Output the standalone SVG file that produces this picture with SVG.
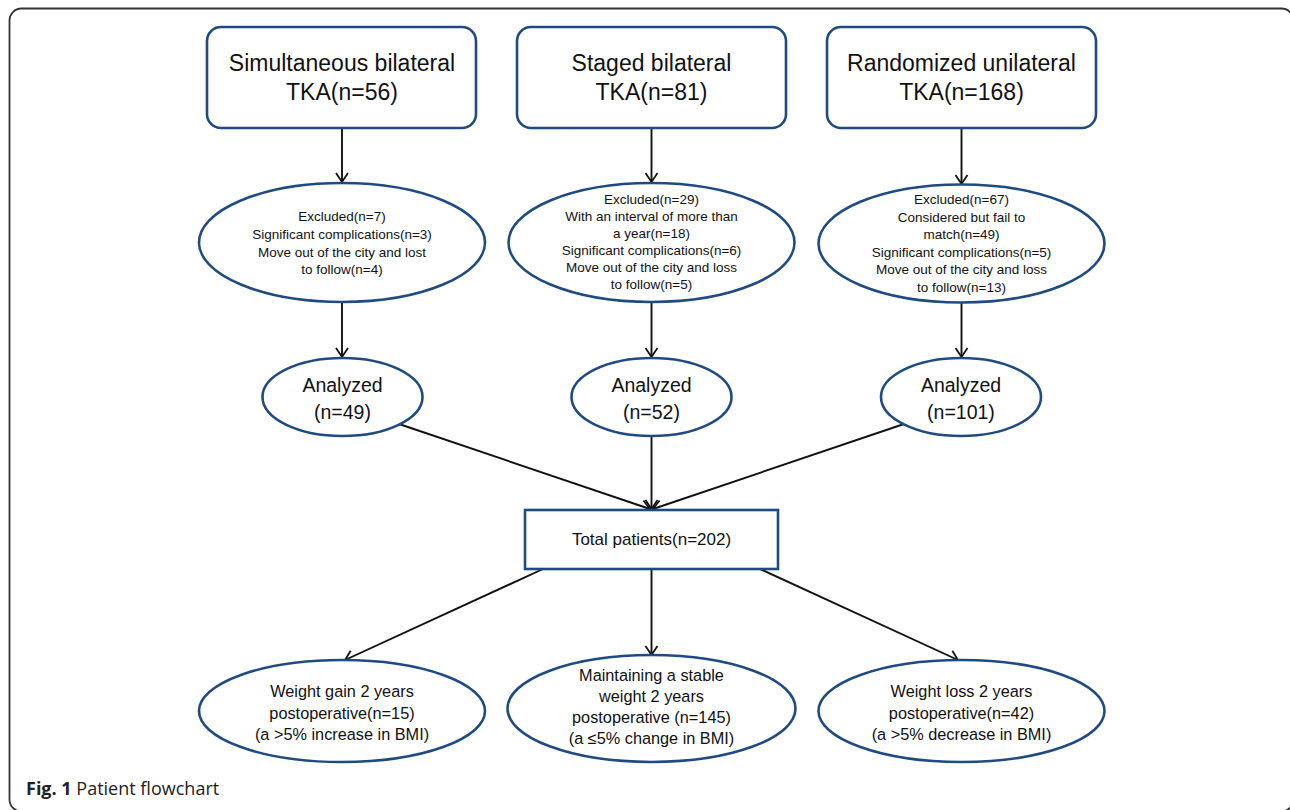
<svg xmlns="http://www.w3.org/2000/svg" width="1290" height="810" viewBox="0 0 1290 810">
  <defs>
    <marker id="arr" markerUnits="userSpaceOnUse" markerWidth="16" markerHeight="16" refX="0" refY="0" viewBox="-12 -8 14 16" orient="auto">
      <path d="M -9 -6 L 0 0 L -9 6" fill="none" stroke="#111" stroke-width="1.8" stroke-linejoin="miter"/>
    </marker>
    <style>
      .frame { fill: none; stroke: #333; stroke-width: 1.8; }
      .node { fill: #fff; stroke: #1F4A82; stroke-width: 2.6; }
      .edge { fill: none; stroke: #111; stroke-width: 1.9; }
      .t { font-family: "Liberation Sans", Arial, sans-serif; fill: #111; text-anchor: middle; }
      .big { font-size: 23px; }
      .sm { font-size: 13.5px; }
      .mid { font-size: 19.5px; }
      .bot { font-size: 16.3px; }
      .tot { font-size: 17px; }
      .cap { font-family: "Open Sans", "Noto Sans", sans-serif; font-size: 18px; fill: #222; }
    </style>
  </defs>

  <rect class="frame" x="9.5" y="8.5" width="1284" height="803" rx="12" ry="12"/>

  <g id="connectors">
    <line class="edge" x1="342" y1="129" x2="342" y2="182" marker-end="url(#arr)"/>
    <line class="edge" x1="651.5" y1="129" x2="651.5" y2="182" marker-end="url(#arr)"/>
    <line class="edge" x1="961.5" y1="129" x2="961.5" y2="184" marker-end="url(#arr)"/>
    <line class="edge" x1="342" y1="302" x2="342" y2="357" marker-end="url(#arr)"/>
    <line class="edge" x1="651.5" y1="302" x2="651.5" y2="357" marker-end="url(#arr)"/>
    <line class="edge" x1="961.5" y1="303" x2="961.5" y2="357" marker-end="url(#arr)"/>
    <line class="edge" x1="399" y1="424" x2="650" y2="509" marker-end="url(#arr)"/>
    <line class="edge" x1="651.5" y1="436" x2="651.5" y2="509" marker-end="url(#arr)"/>
    <line class="edge" x1="904" y1="424" x2="653" y2="509" marker-end="url(#arr)"/>
    <line class="edge" x1="543" y1="569" x2="345" y2="660" marker-end="url(#arr)"/>
    <line class="edge" x1="651.5" y1="569" x2="651.5" y2="655" marker-end="url(#arr)"/>
    <line class="edge" x1="760" y1="569" x2="958" y2="660" marker-end="url(#arr)"/>
  </g>

  <g id="box-simultaneous">
    <rect class="node" x="207" y="27" width="269" height="101" rx="14" ry="14"/>
    <text class="t big" x="342" y="71">Simultaneous bilateral</text>
    <text class="t big" x="342" y="100">TKA(n=56)</text>
  </g>
  <g id="box-staged">
    <rect class="node" x="517" y="27" width="269" height="101" rx="14" ry="14"/>
    <text class="t big" x="651.5" y="71">Staged bilateral</text>
    <text class="t big" x="651.5" y="100">TKA(n=81)</text>
  </g>
  <g id="box-randomized">
    <rect class="node" x="827" y="27" width="269" height="101" rx="14" ry="14"/>
    <text class="t big" x="961.5" y="71">Randomized unilateral</text>
    <text class="t big" x="961.5" y="100">TKA(n=168)</text>
  </g>

  <g id="excluded-1">
    <ellipse class="node" cx="342" cy="242.5" rx="143" ry="59.5"/>
    <text class="t sm" x="342" y="221">Excluded(n=7)</text>
    <text class="t sm" x="342" y="239">Significant complications(n=3)</text>
    <text class="t sm" x="342" y="256.5">Move out of the city and lost</text>
    <text class="t sm" x="342" y="274">to follow(n=4)</text>
  </g>
  <g id="excluded-2">
    <ellipse class="node" cx="651.5" cy="242.5" rx="143" ry="59.5"/>
    <text class="t sm" x="651.5" y="204">Excluded(n=29)</text>
    <text class="t sm" x="651.5" y="221">With an interval of more than</text>
    <text class="t sm" x="651.5" y="238">a year(n=18)</text>
    <text class="t sm" x="651.5" y="255">Significant complications(n=6)</text>
    <text class="t sm" x="651.5" y="272">Move out of the city and loss</text>
    <text class="t sm" x="651.5" y="289">to follow(n=5)</text>
  </g>
  <g id="excluded-3">
    <ellipse class="node" cx="961.5" cy="243.5" rx="143" ry="59"/>
    <text class="t sm" x="961.5" y="204">Excluded(n=67)</text>
    <text class="t sm" x="961.5" y="221.5">Considered but fail to</text>
    <text class="t sm" x="961.5" y="239">match(n=49)</text>
    <text class="t sm" x="961.5" y="256.5">Significant complications(n=5)</text>
    <text class="t sm" x="961.5" y="274">Move out of the city and loss</text>
    <text class="t sm" x="961.5" y="291.5">to follow(n=13)</text>
  </g>

  <g id="analyzed-1">
    <ellipse class="node" cx="342.5" cy="397" rx="80" ry="39"/>
    <text class="t mid" x="342.5" y="392">Analyzed</text>
    <text class="t mid" x="342.5" y="419">(n=49)</text>
  </g>
  <g id="analyzed-2">
    <ellipse class="node" cx="651.5" cy="397" rx="80" ry="39"/>
    <text class="t mid" x="651.5" y="392">Analyzed</text>
    <text class="t mid" x="651.5" y="419">(n=52)</text>
  </g>
  <g id="analyzed-3">
    <ellipse class="node" cx="961" cy="397" rx="80" ry="39"/>
    <text class="t mid" x="961" y="392">Analyzed</text>
    <text class="t mid" x="961" y="419">(n=101)</text>
  </g>

  <g id="total">
    <rect class="node" x="525" y="510" width="253" height="59"/>
    <text class="t tot" x="651.5" y="545">Total patients(n=202)</text>
  </g>

  <g id="weight-gain">
    <ellipse class="node" cx="342" cy="711" rx="143" ry="51"/>
    <text class="t bot" x="342" y="697">Weight gain 2 years</text>
    <text class="t bot" x="342" y="718.5">postoperative(n=15)</text>
    <text class="t bot" x="342" y="740">(a &gt;5% increase in BMI)</text>
  </g>
  <g id="weight-stable">
    <ellipse class="node" cx="651.5" cy="708.5" rx="144" ry="53.5"/>
    <text class="t bot" x="651.5" y="681">Maintaining a stable</text>
    <text class="t bot" x="651.5" y="702">weight 2 years</text>
    <text class="t bot" x="651.5" y="723">postoperative (n=145)</text>
    <text class="t bot" x="651.5" y="744">(a ≤5% change in BMI)</text>
  </g>
  <g id="weight-loss">
    <ellipse class="node" cx="961.5" cy="711" rx="143" ry="51"/>
    <text class="t bot" x="961.5" y="697">Weight loss 2 years</text>
    <text class="t bot" x="961.5" y="718.5">postoperative(n=42)</text>
    <text class="t bot" x="961.5" y="740">(a &gt;5% decrease in BMI)</text>
  </g>

  <g id="caption">
    <text class="cap" x="26" y="795"><tspan font-weight="bold">Fig. 1</tspan> Patient flowchart</text>
  </g>
</svg>
